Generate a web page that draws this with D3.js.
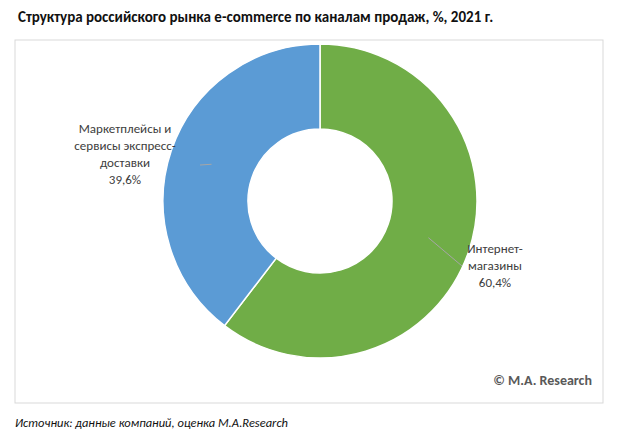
<!DOCTYPE html><html><head><meta charset="utf-8"><script src="https://cdn.jsdelivr.net/npm/d3@7"></script>
<style>body{margin:0;background:#fff}text{font-family:Calibri,Carlito,"Liberation Sans",sans-serif}</style></head><body>
<svg id="c" width="632" height="437"></svg>
<script>
const categories=["Интернет-магазины","Маркетплейсы и сервисы экспресс-доставки"];
const values=[60.4,39.6];
const valueLabels=["60,4%","39,6%"];
const colors=["#70ad47","#5b9bd5"];
const svg=d3.select("#c");
svg.append("text").attr("x",18).attr("y",22).attr("font-size",15).attr("font-weight","bold").attr("fill","#111")
 .text("Структура российского рынка e-commerce по каналам продаж, %, 2021 г.");
svg.append("rect").attr("x",15).attr("y",40).attr("width",588).attr("height",363).attr("fill","#fff").attr("stroke","#d9d9d9");
const cx=320,cy=201,R=157,r=72;
const pie=d3.pie().sort(null).value(d=>d)(values);
const arc=d3.arc().innerRadius(r).outerRadius(R);
const g=svg.append("g").attr("transform",`translate(${cx},${cy})`);
g.selectAll("path").data(pie).join("path").attr("d",arc).attr("fill",(d,i)=>colors[i]).attr("stroke","#fff").attr("stroke-width",1.5);
const mid=d3.arc().innerRadius((r+R)/2).outerRadius((r+R)/2);
const labelPos=[[495,253],[125,133]];
const lines=[["Интернет-","магазины",valueLabels[0]],["Маркетплейсы и","сервисы экспресс-","доставки",valueLabels[1]]];
const ends=[[462,266],[200,165]];
pie.forEach((d,i)=>{
 const c=mid.centroid(d);
 const p=labelPos[i];
 g.append("line").attr("x1",c[0]).attr("y1",c[1]).attr("x2",ends[i][0]-cx).attr("y2",ends[i][1]-cy).attr("stroke","#a6a6a6");
 const t=svg.append("text").attr("text-anchor","middle").attr("font-size",13).attr("fill","#404040");
 lines[i].forEach((s,k)=>t.append("tspan").attr("x",p[0]).attr("y",p[1]+k*17).text(s));
});
svg.append("text").attr("x",592).attr("y",385).attr("text-anchor","end").attr("font-size",14).attr("font-weight","bold").attr("fill","#595959").text("© M.A. Research");
svg.append("text").attr("x",15).attr("y",427).attr("font-size",12.5).attr("font-style","italic").attr("fill","#111").text("Источник: данные компаний,  оценка M.A.Research");
</script></body></html>
